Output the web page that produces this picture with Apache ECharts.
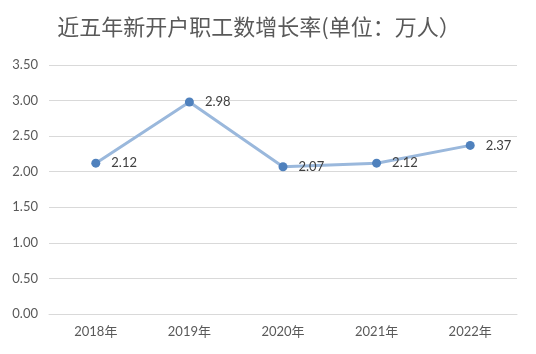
<!DOCTYPE html>
<html lang="zh-CN">
  <head>
    <meta charset="utf-8" />
    <title>近五年新开户职工数增长率</title>
    <style>
      * {
        margin: 0;
        padding: 0;
      }

      #chart-container {
        position: relative;
        width: 536px;
        height: 354px;
        overflow: hidden;
        background: #fff;
      }
    </style>
  </head>

  <body>
    <div id="chart-container"></div>
    <script src="https://fastly.jsdelivr.net/npm/echarts@6/dist/echarts.min.js"></script>
    <script>
      var years = ["2018年", "2019年", "2020年", "2021年", "2022年"];
      var growth = [2.12, 2.98, 2.07, 2.12, 2.37];

      var dom = document.getElementById("chart-container");
      var myChart = echarts.init(dom, null, { renderer: "canvas" });

      var font = "Lato, 'Noto Sans CJK SC', sans-serif";

      var option = {
        animation: false,
        title: {
          text: "近五年新开户职工数增长率(单位：万人）",
          left: 254,
          textAlign: "center",
          top: 11,
          textStyle: {
            color: "#595959",
            fontSize: 22,
            fontWeight: "normal",
            fontFamily: "'Noto Sans CJK SC', sans-serif",
          },
        },
        grid: {
          left: 49,
          right: 19,
          top: 65,
          bottom: 40,
        },
        xAxis: {
          type: "category",
          data: years,
          axisLine: { lineStyle: { color: "#d9d9d9" } },
          axisTick: { show: false },
          axisLabel: {
            color: "#595959",
            fontSize: 13,
            margin: 11,
            fontFamily: font,
          },
        },
        yAxis: {
          type: "value",
          min: 0,
          max: 3.5,
          interval: 0.5,
          axisLine: { show: false },
          axisTick: { show: false },
          splitLine: { lineStyle: { color: "#d9d9d9" } },
          axisLabel: {
            color: "#595959",
            fontSize: 13,
            margin: 11,
            fontFamily: font,
            formatter: function (v) {
              return v.toFixed(2);
            },
          },
        },
        series: [
          {
            type: "line",
            data: growth,
            symbol: "circle",
            symbolSize: 9,
            lineStyle: { color: "#9ab8dc", width: 3 },
            itemStyle: { color: "#4f81bd" },
            label: {
              show: true,
              position: "right",
              distance: 11,
              color: "#404040",
              fontSize: 13,
              fontFamily: font,
              formatter: function (p) {
                return p.value.toFixed(2);
              },
            },
          },
        ],
      };

      myChart.setOption(option);
      window.addEventListener("resize", myChart.resize);
    </script>
  </body>
</html>
